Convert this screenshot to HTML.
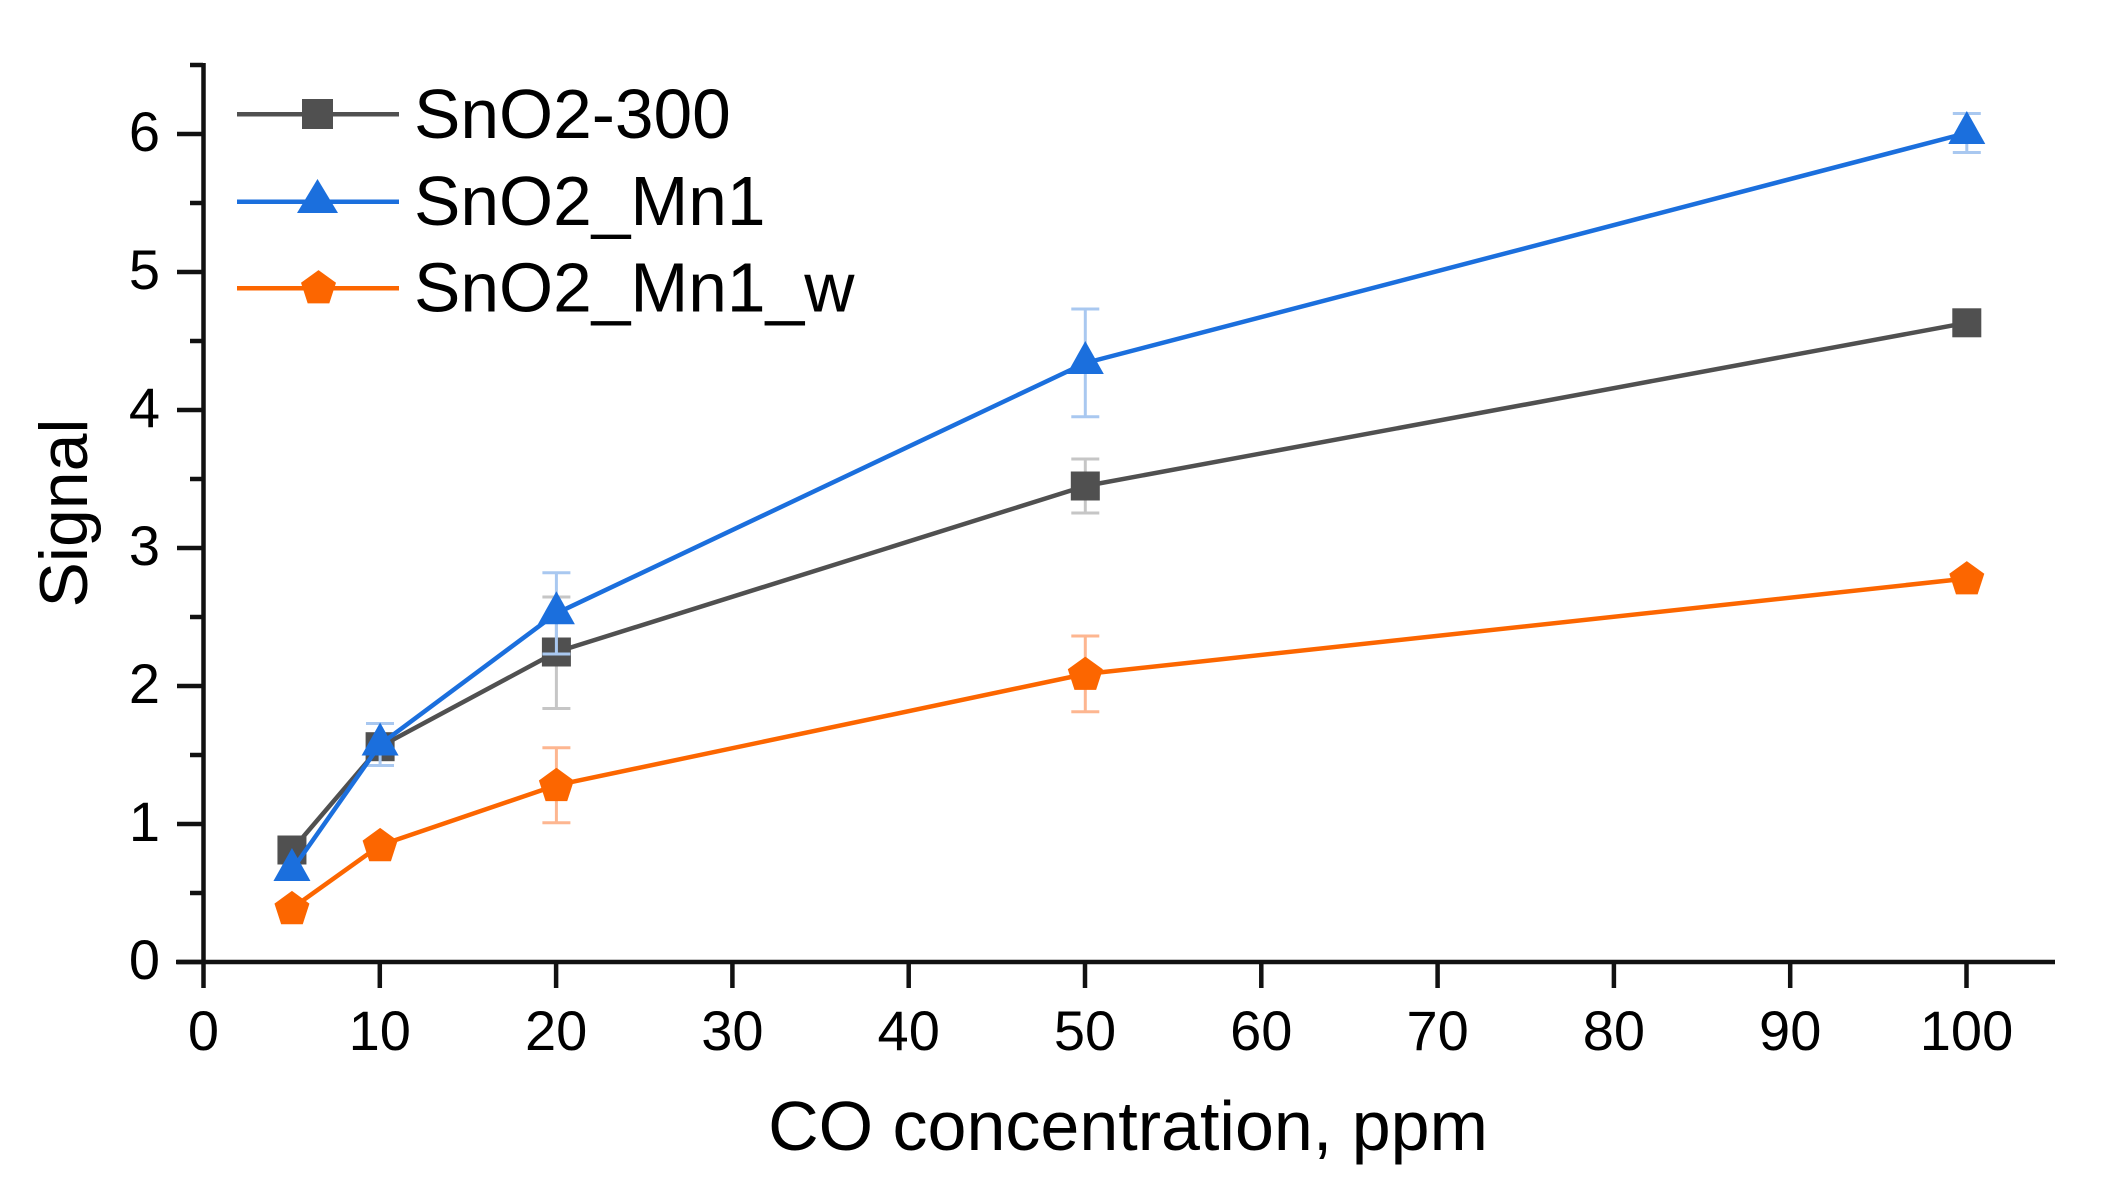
<!DOCTYPE html>
<html>
<head>
<meta charset="utf-8">
<style>
  html,body{margin:0;padding:0;background:#fff;}
  svg{display:block;}
  text{font-family:"Liberation Sans", Arial, sans-serif; fill:#000;}
</style>
</head>
<body>
<svg width="2103" height="1201" viewBox="0 0 2103 1201" xmlns="http://www.w3.org/2000/svg">
  <defs>
    <rect id="sq" x="-14.5" y="-14.5" width="29" height="29" fill="#505050"/>
    <polygon id="tri" points="0,-22 18.5,11 -18.5,11" fill="#1b6fdd"/>
    <polygon id="pen" points="0,-17.4 17.5,-4.69 10.82,15.89 -10.82,15.89 -17.5,-4.69" fill="#fc6600"/>
  </defs>

  <!-- axes -->
  <g stroke="#111" stroke-width="4.5" fill="none">
    <line x1="203.5" y1="63" x2="203.5" y2="988"/>
    <line x1="176" y1="962" x2="2055" y2="962"/>
    <!-- y major ticks -->
    <line x1="177" y1="962" x2="203" y2="962"/>
    <line x1="177" y1="824" x2="203" y2="824"/>
    <line x1="177" y1="686" x2="203" y2="686"/>
    <line x1="177" y1="548" x2="203" y2="548"/>
    <line x1="177" y1="410" x2="203" y2="410"/>
    <line x1="177" y1="272" x2="203" y2="272"/>
    <line x1="177" y1="134" x2="203" y2="134"/>
    <!-- y minor ticks -->
    <line x1="190" y1="893" x2="203" y2="893"/>
    <line x1="190" y1="755" x2="203" y2="755"/>
    <line x1="190" y1="617" x2="203" y2="617"/>
    <line x1="190" y1="479" x2="203" y2="479"/>
    <line x1="190" y1="341" x2="203" y2="341"/>
    <line x1="190" y1="203" x2="203" y2="203"/>
    <line x1="190" y1="65" x2="203" y2="65"/>
    <!-- x ticks -->
    <line x1="379.8" y1="962" x2="379.8" y2="988"/>
    <line x1="556.1" y1="962" x2="556.1" y2="988"/>
    <line x1="732.4" y1="962" x2="732.4" y2="988"/>
    <line x1="908.7" y1="962" x2="908.7" y2="988"/>
    <line x1="1085" y1="962" x2="1085" y2="988"/>
    <line x1="1261.3" y1="962" x2="1261.3" y2="988"/>
    <line x1="1437.6" y1="962" x2="1437.6" y2="988"/>
    <line x1="1613.9" y1="962" x2="1613.9" y2="988"/>
    <line x1="1790.2" y1="962" x2="1790.2" y2="988"/>
    <line x1="1966.5" y1="962" x2="1966.5" y2="988"/>
  </g>

  <!-- y tick labels -->
  <g font-size="56" text-anchor="end">
    <text x="160" y="979">0</text>
    <text x="160" y="841">1</text>
    <text x="160" y="703">2</text>
    <text x="160" y="565">3</text>
    <text x="160" y="427">4</text>
    <text x="160" y="289">5</text>
    <text x="160" y="151">6</text>
  </g>
  <!-- x tick labels -->
  <g font-size="56" text-anchor="middle">
    <text x="203.5" y="1050">0</text>
    <text x="379.8" y="1050">10</text>
    <text x="556.1" y="1050">20</text>
    <text x="732.4" y="1050">30</text>
    <text x="908.7" y="1050">40</text>
    <text x="1085" y="1050">50</text>
    <text x="1261.3" y="1050">60</text>
    <text x="1437.6" y="1050">70</text>
    <text x="1613.9" y="1050">80</text>
    <text x="1790.2" y="1050">90</text>
    <text x="1966.5" y="1050">100</text>
  </g>

  <!-- axis titles -->
  <text x="1128" y="1150" font-size="70" text-anchor="middle">CO concentration, ppm</text>
  <text transform="translate(87,513) rotate(-90)" font-size="68" text-anchor="middle">Signal</text>

  <!-- SnO2-300 (gray) -->
  <g stroke="#c6c6c6" stroke-width="3" fill="none">
    <line x1="380.1" y1="737" x2="380.1" y2="757"/>
    <line x1="366" y1="737" x2="394" y2="737"/><line x1="366" y1="757" x2="394" y2="757"/>
    <line x1="556.4" y1="597" x2="556.4" y2="708.5"/>
    <line x1="542.4" y1="597" x2="570.4" y2="597"/><line x1="542.4" y1="708.5" x2="570.4" y2="708.5"/>
    <line x1="1085.3" y1="459" x2="1085.3" y2="513"/>
    <line x1="1071.3" y1="459" x2="1099.3" y2="459"/><line x1="1071.3" y1="513" x2="1099.3" y2="513"/>
  </g>
  <polyline points="291.95,850 380.1,746.7 556.4,652 1085.3,486 1966.8,322.8" fill="none" stroke="#505050" stroke-width="4.5" stroke-linejoin="round"/>
  <use href="#sq" x="291.95" y="850"/>
  <use href="#sq" x="380.1" y="746.7"/>
  <use href="#sq" x="556.4" y="652"/>
  <use href="#sq" x="1085.3" y="486"/>
  <use href="#sq" x="1966.8" y="322.8"/>

  <!-- SnO2_Mn1 (blue) -->
  <g stroke="#a9c8f0" stroke-width="3" fill="none">
    <line x1="380.1" y1="723.5" x2="380.1" y2="765.5"/>
    <line x1="366" y1="723.5" x2="394" y2="723.5"/><line x1="366" y1="765.5" x2="394" y2="765.5"/>
    <line x1="556.4" y1="572.7" x2="556.4" y2="654"/>
    <line x1="542.4" y1="572.7" x2="570.4" y2="572.7"/><line x1="542.4" y1="654" x2="570.4" y2="654"/>
    <line x1="1085.3" y1="309" x2="1085.3" y2="416.7"/>
    <line x1="1071.3" y1="309" x2="1099.3" y2="309"/><line x1="1071.3" y1="416.7" x2="1099.3" y2="416.7"/>
    <line x1="1966.8" y1="113.5" x2="1966.8" y2="152.5"/>
    <line x1="1952.8" y1="113.5" x2="1980.8" y2="113.5"/><line x1="1952.8" y1="152.5" x2="1980.8" y2="152.5"/>
  </g>
  <polyline points="291.95,870 380.1,744.5 556.4,613.3 1085.3,363 1966.8,133" fill="none" stroke="#1b6fdd" stroke-width="4.5" stroke-linejoin="round"/>
  <use href="#tri" x="291.95" y="870"/>
  <use href="#tri" x="380.1" y="744.5"/>
  <use href="#tri" x="556.4" y="613.3"/>
  <use href="#tri" x="1085.3" y="363"/>
  <use href="#tri" x="1966.8" y="133"/>

  <!-- SnO2_Mn1_w (orange) -->
  <g stroke="#fdb690" stroke-width="3" fill="none">
    <line x1="556.4" y1="747.7" x2="556.4" y2="822.7"/>
    <line x1="542.4" y1="747.7" x2="570.4" y2="747.7"/><line x1="542.4" y1="822.7" x2="570.4" y2="822.7"/>
    <line x1="1085.3" y1="636" x2="1085.3" y2="711.7"/>
    <line x1="1071.3" y1="636" x2="1099.3" y2="636"/><line x1="1071.3" y1="711.7" x2="1099.3" y2="711.7"/>
  </g>
  <polyline points="291.95,908.3 380.1,845.3 556.4,785.2 1085.3,674 1966.8,578.5" fill="none" stroke="#fc6600" stroke-width="4.5" stroke-linejoin="round"/>
  <use href="#pen" x="291.95" y="908.3"/>
  <use href="#pen" x="380.1" y="845.3"/>
  <use href="#pen" x="556.4" y="785.2"/>
  <use href="#pen" x="1085.3" y="674"/>
  <use href="#pen" x="1966.8" y="578.5"/>

  <!-- legend -->
  <line x1="237" y1="114.3" x2="399" y2="114.3" stroke="#505050" stroke-width="4.5"/>
  <rect x="302" y="99" width="31" height="30" fill="#505050"/>
  <line x1="237" y1="201.7" x2="399" y2="201.7" stroke="#1b6fdd" stroke-width="4.5"/>
  <polygon points="317.5,179 338,213 297,213" fill="#1b6fdd"/>
  <line x1="237" y1="288.3" x2="399" y2="288.3" stroke="#fc6600" stroke-width="4.5"/>
  <use href="#pen" x="318.5" y="287.5"/>
  <g font-size="69.5">
    <text x="414" y="138">SnO2-300</text>
    <text x="414" y="225">SnO2_Mn1</text>
    <text x="414" y="311.5">SnO2_Mn1_w</text>
  </g>
</svg>
</body>
</html>
